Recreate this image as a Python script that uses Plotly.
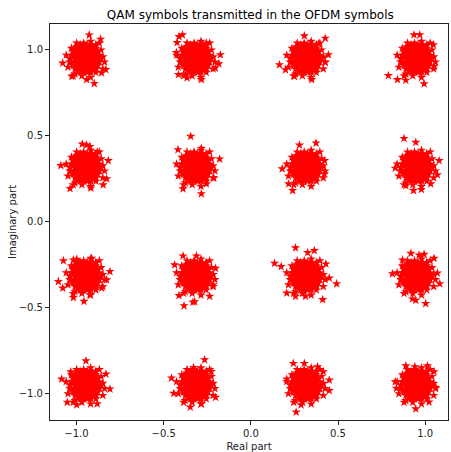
import plotly.graph_objects as go

# 16-QAM constellation levels (normalised by sqrt(10))
LEVELS = [-0.949, -0.316, 0.316, 0.949]

# Dense core of each received cluster: offsets from the ideal point, in hundredths,
# listed row by row (vertical offset, then the horizontal offsets on that row)
CORE_ROW_DY = [8, 7, 6, 5, 4, 3, 2, 1, 0, -1, -2, -3, -4, -5, -6, -7, -8]
CORE_ROW_DX = [
    [-3, -1, 1, 3],
    [-5, 0, 4],
    [-6, -4, -2, 0, 2, 4, 6],
    [-7, -3, 1, 5],
    [-7, -5, -3, -1, 1, 3, 5, 7],
    [-6, -2, 2, 6],
    [-8, -6, -4, -2, 0, 2, 4, 6, 8],
    [-7, -3, 1, 5],
    [-9, -6, -4, -2, 0, 2, 4, 6, 9],
    [-5, -1, 3, 7],
    [-8, -6, -4, -2, 0, 2, 4, 6, 8],
    [-7, -3, 1, 5],
    [-7, -5, -3, -1, 1, 3, 5, 7],
    [-5, -1, 3, 6],
    [-6, -4, -2, 0, 2, 4, 6],
    [-4, 0, 3],
    [-3, -1, 1, 3],
]

# Ragged fringe just outside the core, in hundredths
FRINGE_DX = [10, 9, 6, 3, -1, -5, -8, -11, -9, -10, -6, -2, 3, 6, 10, 11, 8, -7]
FRINGE_DY = [1, 5, 8, 10, 9, 9, 6, 2, -2, -5, -9, -10, -11, -8, -6, -2, 9, -10]

# Scattered symbols around each cluster (real, imaginary)
OUTLIERS_RE = [
    [-0.927, -0.862, -1.079, -1.027, -0.898, -0.856, -0.832, -0.942],
    [-0.392, -0.412, -0.423, -0.427, -0.415, -0.366, -0.284, -0.175, -0.183, -0.204, -0.255],
    [0.307, 0.427, 0.445, 0.164, 0.199, 0.250, 0.349, 0.389, 0.427],
    [0.789, 0.936, 0.969, 1.047, 0.994, 0.841, 0.889, 1.051],
    [-1.090, -0.818, -0.967, -0.942, -0.923, -1.037, -0.917, -0.847, -0.827, -0.881],
    [-0.345, -0.418, -0.389, -0.284, -0.179, -0.212, -0.284, -0.255],
    [0.374, 0.180, 0.240, 0.217, 0.279, 0.423, 0.422],
    [0.879, 1.080, 0.828, 1.070, 0.933, 0.978, 0.889, 1.032, 0.946],
    [-1.104, -1.075, -1.018, -0.999, -0.913, -0.808, -1.018, -0.957, -1.079, -0.856, -0.827, -0.923],
    [-0.383, -0.332, -0.322, -0.412, -0.202, -0.389, -0.437, -0.236, -0.217, -0.312],
    [0.256, 0.136, 0.174, 0.364, 0.326, 0.492, 0.412, 0.206, 0.256, 0.313, 0.431, 0.450],
    [0.918, 0.965, 0.994, 1.051, 0.812, 1.084, 1.003, 0.927, 0.946, 1.070, 0.870],
    [-0.946, -1.085, -1.033, -0.831, -0.808, -1.053, -0.999, -0.881],
    [-0.265, -0.455, -0.328, -0.227, -0.347, -0.284, -0.442, -0.202],
    [0.260, 0.244, 0.307, 0.383, 0.416, 0.206, 0.450, 0.288, 0.450],
    [0.828, 0.835, 0.889, 0.941, 1.013, 1.051, 0.946, 1.061, 1.022],
]
OUTLIERS_IM = [
    [1.086, 1.062, 0.923, 0.846, 0.804, 0.866, 0.885, 0.827],
    [1.087, 1.077, 1.042, 0.984, 0.856, 0.837, 0.827, 0.971, 0.919, 0.894, 1.039],
    [1.081, 1.067, 0.971, 0.913, 0.884, 0.846, 0.827, 1.035, 0.927],
    [0.850, 1.087, 1.087, 1.029, 0.802, 0.827, 0.823, 0.904],
    [0.327, 0.356, 0.452, 0.446, 0.438, 0.193, 0.196, 0.215, 0.250, 0.407],
    [0.497, 0.419, 0.192, 0.163, 0.365, 0.254, 0.427, 0.221],
    [0.458, 0.308, 0.182, 0.221, 0.446, 0.356, 0.279],
    [0.485, 0.356, 0.312, 0.273, 0.182, 0.188, 0.211, 0.221, 0.462],
    [-0.347, -0.226, -0.222, -0.218, -0.212, -0.289, -0.440, -0.462, -0.385, -0.385, -0.337, -0.424],
    [-0.488, -0.467, -0.464, -0.429, -0.270, -0.198, -0.250, -0.433, -0.366, -0.198],
    [-0.151, -0.241, -0.260, -0.167, -0.179, -0.360, -0.452, -0.414, -0.433, -0.433, -0.245, -0.327],
    [-0.183, -0.193, -0.189, -0.212, -0.302, -0.360, -0.475, -0.448, -0.456, -0.298, -0.222],
    [-0.808, -0.914, -0.872, -0.885, -0.972, -1.049, -1.064, -1.058],
    [-0.802, -0.908, -0.847, -0.870, -1.077, -1.058, -0.997, -1.020],
    [-1.106, -0.823, -0.823, -0.842, -0.871, -0.914, -0.920, -1.064, -0.981],
    [-0.929, -0.968, -0.837, -0.842, -0.837, -0.871, -1.087, -0.962, -1.048],
]

TICKS = [-1.0, -0.5, 0.0, 0.5, 1.0]

# Assemble all received symbols, cluster by cluster (rows top to bottom)
re_pts, im_pts = [], []
k = 0
for im_c in reversed(LEVELS):
    for re_c in LEVELS:
        for dy, row in zip(CORE_ROW_DY, CORE_ROW_DX):
            for dx in row:
                re_pts.append(re_c + dx * 0.01)
                im_pts.append(im_c + dy * 0.01)
        for dx, dy in zip(FRINGE_DX, FRINGE_DY):
            re_pts.append(re_c + dx * 0.01)
            im_pts.append(im_c + dy * 0.01)
        re_pts.extend(OUTLIERS_RE[k])
        im_pts.extend(OUTLIERS_IM[k])
        k += 1

fig = go.Figure(
    go.Scatter(
        x=re_pts, y=im_pts, mode="markers",
        marker=dict(symbol="star", size=7, color="red", line=dict(width=0)),
        hoverinfo="x+y",
    )
)

axis_common = dict(
    showgrid=False, zeroline=False, showline=True, mirror=True,
    linecolor="#222", linewidth=1, ticks="outside", ticklen=4,
    tickcolor="#222", tickvals=TICKS, tickformat=".1f",
    tickfont=dict(family="DejaVu Sans", size=10, color="#222"),
)

fig.update_layout(
    width=451, height=452,
    margin=dict(l=50, r=2, t=24, b=29),
    paper_bgcolor="white", plot_bgcolor="white",
    showlegend=False,
    title=dict(
        text="QAM symbols transmitted in the OFDM symbols",
        x=0.555, xanchor="center", y=0.968, yanchor="middle",
        font=dict(family="DejaVu Sans", size=12, color="black"),
    ),
    xaxis=dict(axis_common, range=[-1.152, 1.131],
               title=dict(text="Real part", standoff=4,
                          font=dict(family="DejaVu Sans", size=10, color="#222"))),
    yaxis=dict(axis_common, range=[-1.152, 1.150],
               title=dict(text="Imaginary part", standoff=0,
                          font=dict(family="DejaVu Sans", size=10, color="#222"))),
)

fig.write_html("out.html")
